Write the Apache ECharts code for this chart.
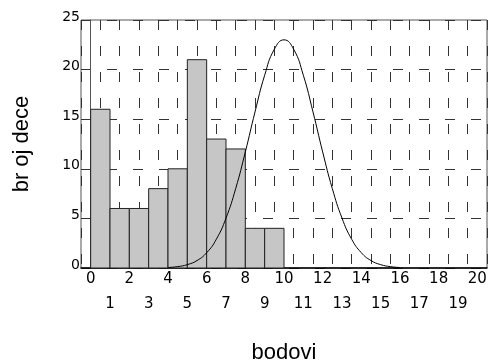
<!DOCTYPE html>
<html>
<head>
<meta charset="utf-8">
<script src="https://cdn.jsdelivr.net/npm/echarts@6/dist/echarts.min.js"></script>
<style>html,body{margin:0;padding:0;background:#fff;}#c{width:489px;height:361px;}</style>
</head>
<body>
<div id="c"></div>
<script>
// Histogram bins (start of each unit-wide bin) and counts
const binStarts = [0, 1, 2, 3, 4, 5, 6, 7, 8, 9];
const counts = [16, 6, 6, 8, 10, 21, 13, 12, 4, 4];
// Fitted curve
const curveX = [4, 4.5, 5, 5.5, 6, 6.5, 7, 7.5, 8, 8.5, 9, 9.5, 10, 10.5, 11, 11.5, 12, 12.5, 13, 13.5, 14, 14.5, 15, 15.5, 16];
const curveY = [0.05, 0.14, 0.34, 0.75, 1.54, 2.9, 5.03, 8.0, 11.7, 15.73, 19.43, 22.05, 23, 22.05, 19.43, 15.73, 11.7, 8.0, 5.03, 2.9, 1.54, 0.75, 0.34, 0.14, 0.05];
const xTicks = [0,1,2,3,4,5,6,7,8,9,10,11,12,13,14,15,16,17,18,19,20];
const yTicks = [0, 5, 10, 15, 20, 25];

const chart = echarts.init(document.getElementById('c'), null, {renderer: 'canvas'});
const font = 'Liberation Sans, Arial, sans-serif';
const tickFont = 'DejaVu Sans, sans-serif';
chart.setOption({
  animation: false,
  grid: {left: 81, right: 2, top: 20, bottom: 93, show: true, borderColor: '#555', borderWidth: 1,
    containLabel: false, outerBoundsMode: 'none'},
  xAxis: {
    type: 'value', min: -0.5, max: 20.5,
    interval: 1,
    name: 'bodovi', nameLocation: 'middle', nameGap: 74,
    nameTextStyle: {fontFamily: font, fontSize: 22, color: '#000'},
    axisLine: {show: true, onZero: false, lineStyle: {color: '#000', width: 1.5}},
    axisTick: {show: false},
    axisLabel: {
      customValues: xTicks,
      fontFamily: tickFont, fontSize: 15, color: '#000', margin: -1, lineHeight: 25,
      formatter: v => (v % 2 === 0 ? String(v) : '\n' + v)
    },
    splitLine: {show: true, lineStyle: {color: '#333', type: [10, 16], width: 1}}
  },
  yAxis: {
    type: 'value', min: 0, max: 25, interval: 5,
    name: 'br oj dece', nameLocation: 'middle', nameGap: 48, nameRotate: 90,
    nameTextStyle: {fontFamily: font, fontSize: 22, color: '#000'},
    axisLine: {show: true, lineStyle: {color: '#555', width: 1}},
    axisTick: {show: false},
    axisLabel: {fontFamily: tickFont, fontSize: 14, color: '#000', margin: 1,
      verticalAlign: 'bottom', lineHeight: 6, customValues: yTicks},
    splitLine: {show: true, lineStyle: {color: '#333', type: [10, 16], width: 1}}
  },
  series: [
    {
      type: 'custom',
      data: binStarts.map((b, i) => [b, counts[i]]),
      encode: {x: 0, y: 1},
      renderItem: function (params, api) {
        const x0 = api.value(0), h = api.value(1);
        const p0 = api.coord([x0, 0]);
        const p1 = api.coord([x0 + 1, h]);
        return {
          type: 'rect',
          shape: {x: p0[0], y: p1[1], width: p1[0] - p0[0], height: p0[1] - p1[1]},
          style: {fill: '#c6c6c6', stroke: '#222', lineWidth: 1}
        };
      },
      z: 3
    },
    {
      type: 'line',
      data: curveX.map((x, i) => [x, curveY[i]]),
      smooth: true,
      showSymbol: false,
      lineStyle: {color: '#000', width: 1},
      z: 4
    }
  ]
});
</script>
</body>
</html>
